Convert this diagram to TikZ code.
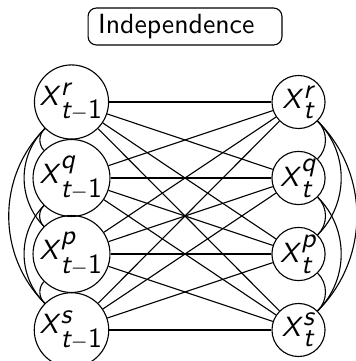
\documentclass[tikz,border=0pt]{standalone}
\newcommand{\xvar}[2]{\textit{X}$^{\textit{#1}}_{#2}$}
\newcommand{\tmo}{\textit{t}-\textup{1}}
\begin{document}
\begin{tikzpicture}[x=0.36pt,y=-0.36pt,font=\sffamily,
  lnode/.style={circle,draw,minimum size=24.5pt,inner sep=0pt},
  rnode/.style={circle,draw,minimum size=19.1pt,inner sep=0pt},
  titlebox/.style={draw,rounded corners=3pt,text width=62.6pt,align=left,inner xsep=3.6pt,minimum height=13.3pt,inner ysep=0pt},
  leftarc/.style={bend right=45},
  rightarc/.style={bend left=45}]
\useasboundingbox (0,0) rectangle (355,361);
\node[titlebox] (title) at (185,26.5) {Independence};
\node[lnode] (Lr) at (71.5,102) {\xvar{r}{\tmo}};
\node[lnode] (Lq) at (71.5,178) {\xvar{q}{\tmo}};
\node[lnode] (Lp) at (71.5,254) {\xvar{p}{\tmo}};
\node[lnode] (Ls) at (71.5,330) {\xvar{s}{\tmo}};
\node[rnode] (Rr) at (298.5,102) {\xvar{r}{\textit{t}}};
\node[rnode] (Rq) at (298.5,178) {\xvar{q}{\textit{t}}};
\node[rnode] (Rp) at (298.5,254) {\xvar{p}{\textit{t}}};
\node[rnode] (Rs) at (298.5,330) {\xvar{s}{\textit{t}}};
\foreach \a in {r,q,p,s}{
  \foreach \b in {r,q,p,s}{
    \draw (L\a) -- (R\b);
  }
}
\foreach \a/\b in {r/q,q/p,p/s,r/p,q/s,r/s}{
  \draw (L\a) to[leftarc] (L\b);
  \draw (R\a) to[rightarc] (R\b);
}
\end{tikzpicture}
\end{document}
